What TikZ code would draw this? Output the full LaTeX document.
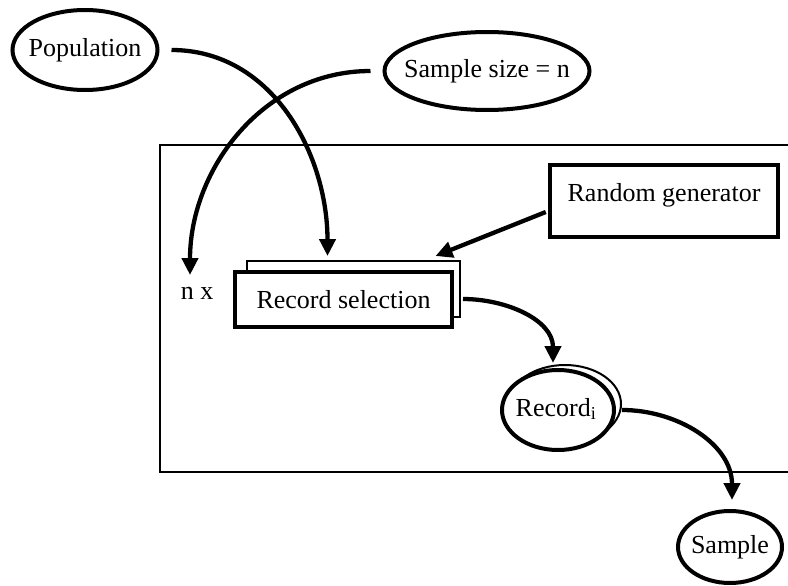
\documentclass[tikz,border=0pt]{standalone}
\usepackage{fontspec}
\setmainfont{Liberation Serif}
\usetikzlibrary{shapes.geometric,arrows.meta,calc}
\begin{document}
\begin{tikzpicture}[x=1pt,y=-1pt,
  every node/.style={font=\fontsize{26}{30}\selectfont, inner sep=0pt},
  oval/.style={ellipse, draw, line width=4pt, fill=white},
  thickbox/.style={rectangle, draw, line width=4pt, fill=white},
  thinbox/.style={rectangle, draw, line width=2pt, fill=white},
  conn/.style={line width=4.3pt, -{Triangle[length=17pt,width=16pt]}},
]
\useasboundingbox (0,0) rectangle (788,586);
% frame (continues beyond right edge)
\draw[line width=2pt] (160,145) rectangle (800,472);

% nodes
\node[oval, minimum width=145pt, minimum height=80pt] (pop) at (85,50) {};
\node (poptext) at (pop.center) {Population};
\node[oval, minimum width=205pt, minimum height=78pt] (ssize) at (487,71) {};
\node (ssizetext) at (ssize.center) {Sample size = n};

\node[thickbox, line width=4.5pt, minimum width=228pt, minimum height=72pt] (rg) at (664,201) {};
\node (rgtext) at (664,195) {Random generator};

\node[thinbox, minimum width=213pt, minimum height=56pt] (recback) at (353.5,289) {};
\node[thickbox, minimum width=217pt, minimum height=55pt] (recsel) at (343.5,299.5) {Record selection};

\node (nx) at (197,293) {n x};

\node[oval, line width=2pt, minimum width=112pt, minimum height=78pt] (recback2) at (565,404) {};
\node[oval, minimum width=112pt, minimum height=80pt] (rec) at (558,410) {};
\node (rectext) at ($(rec.center)+(-2,-1)$) {Record\textsubscript{i}};

\node[oval, minimum width=104pt, minimum height=72pt] (sample) at (730,547) {};
\node (sampletext) at (sample.center) {Sample};

% connectors
\draw[conn] ([xshift=12pt]pop.east) to[out=0,in=90] ($(recback.north)+(-26,-4)$);
\draw[conn] ([xshift=-12pt]ssize.west) to[out=180,in=90] ($(nx.center)+(-7,-18)$);
\draw[conn] ($(rg.west)+(-2,11)$) -- ($(recback.north)+(82,-4)$);
\draw[conn] ($(recback.east)+(2,10)$) to[out=0,in=90] ($(rec.north)+(-5,-5)$);
\draw[conn] ($(recback2.east)+(0,6)$) to[out=0,in=90] ($(sample.north)+(2,-9)$);
\end{tikzpicture}
\end{document}
